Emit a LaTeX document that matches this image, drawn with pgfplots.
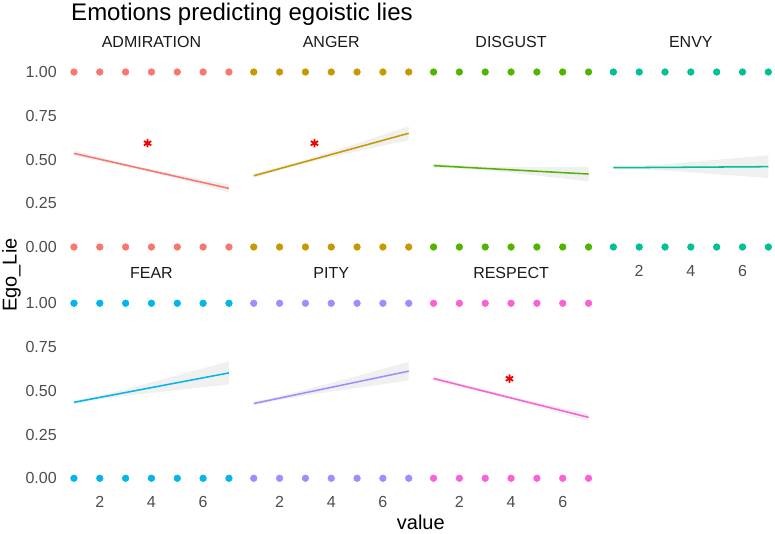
\documentclass[border=0pt]{standalone}
\usepackage{pgfplots}
\pgfplotsset{compat=1.18}
\usepackage{fontspec}
\setmainfont{Liberation Sans}
\definecolor{cA}{HTML}{F8766D}
\definecolor{cB}{HTML}{C49A00}
\definecolor{cC}{HTML}{53B400}
\definecolor{cD}{HTML}{00C094}
\definecolor{cE}{HTML}{00B6EB}
\definecolor{cF}{HTML}{A58AFF}
\definecolor{cG}{HTML}{FB61D7}
\definecolor{ribbon}{HTML}{F0F0F0}
\definecolor{ticktext}{HTML}{4D4D4D}
\definecolor{striptext}{HTML}{1A1A1A}
\definecolor{starred}{HTML}{F00000}
\pgfplotsset{
  panel/.style={
    scale only axis, width=127.875pt, height=144.375pt,
    xmin=0.7, xmax=7.3, ymin=-0.05, ymax=1.05,
    axis line style={draw=none}, major tick length=0pt, tick style={draw=none},
    xtick={2,4,6}, ytick={0,0.25,0.5,0.75,1},
    clip=false, anchor=north west,
    /pgf/number format/assume math mode=true,
    ticklabel style={font=\fontsize{12}{14}\selectfont, text=ticktext, inner sep=0pt},
    xticklabel style={anchor=center, yshift=-11.25pt},
    yticklabel style={anchor=east, xshift=-6.9pt, /pgf/number format/.cd, fixed, fixed zerofill, precision=2},
    title style={at={(0.5,1)}, anchor=base, yshift=6.1pt, font=\fontsize{12}{14}\selectfont, text=striptext, inner sep=0pt},
  },
  nox/.style={xticklabels={}},
  noy/.style={yticklabels={}},
  dots/.style={only marks, mark=*, mark size=2.5pt, mark options={draw=none}},
  band/.style={fill=ribbon, draw=none},
  fit/.style={line width=1.15pt},
  star/.style={only marks, mark=asterisk, mark size=3.2pt, starred, mark options={line width=1.35pt}},
}
\begin{document}
\begin{tikzpicture}
\path[use as bounding box] (0,0) rectangle (581.25pt,-399.75pt);
\node[anchor=base west, font=\fontsize{18}{21}\selectfont] at (49.9pt,-15.4pt) {Emotions predicting egoistic lies};
\node[anchor=base, font=\fontsize{15}{18}\selectfont] at (315.6pt,-396.75pt) {value};
\node[anchor=base, rotate=90, font=\fontsize{15}{18}\selectfont] at (12.5pt,-206.25pt) {Ego\_Lie};

% ADMIRATION
\begin{axis}[panel, nox, at={(49.65pt,-47.4375pt)}, title={ADMIRATION}]
\addplot[band] coordinates {(1,0.551)(2,0.513)(3,0.477)(4,0.445)(5,0.415)(6,0.385)(7,0.356)(7,0.314)(6,0.351)(5,0.389)(4,0.425)(3,0.459)(2,0.491)(1,0.519)} -- cycle;
\addplot[fit, cA] coordinates {(1,0.535)(7,0.335)};
\addplot[dots, cA] coordinates {(1,0)(2,0)(3,0)(4,0)(5,0)(6,0)(7,0)(1,1)(2,1)(3,1)(4,1)(5,1)(6,1)(7,1)};
\addplot[star] coordinates {(3.85,0.593)};
\end{axis}

% ANGER
\begin{axis}[panel, nox, noy, at={(184.5pt,-47.4375pt)}, title={ANGER}]
\addplot[band] coordinates {(1,0.419)(2,0.457)(3,0.498)(4,0.545)(5,0.592)(6,0.641)(7,0.690)(7,0.610)(6,0.579)(5,0.546)(4,0.513)(3,0.478)(2,0.439)(1,0.395)} -- cycle;
\addplot[fit, cB] coordinates {(1,0.407)(7,0.650)};
\addplot[dots, cB] coordinates {(1,0)(2,0)(3,0)(4,0)(5,0)(6,0)(7,0)(1,1)(2,1)(3,1)(4,1)(5,1)(6,1)(7,1)};
\addplot[star] coordinates {(3.35,0.593)};
\end{axis}

% DISGUST
\begin{axis}[panel, nox, noy, at={(319.35pt,-47.4375pt)}, title={DISGUST}]
\addplot[band] coordinates {(1,0.477)(2,0.466)(3,0.460)(4,0.458)(5,0.458)(6,0.458)(7,0.459)(7,0.375)(6,0.392)(5,0.408)(4,0.424)(3,0.438)(2,0.448)(1,0.453)} -- cycle;
\addplot[fit, cC] coordinates {(1,0.465)(7,0.417)};
\addplot[dots, cC] coordinates {(1,0)(2,0)(3,0)(4,0)(5,0)(6,0)(7,0)(1,1)(2,1)(3,1)(4,1)(5,1)(6,1)(7,1)};
\end{axis}

% ENVY
\begin{axis}[panel, noy, at={(454.2pt,-47.4375pt)}, title={ENVY}]
\addplot[band] coordinates {(1,0.463)(2,0.464)(3,0.473)(4,0.485)(5,0.498)(6,0.511)(7,0.524)(7,0.394)(6,0.405)(5,0.416)(4,0.427)(3,0.437)(2,0.444)(1,0.443)} -- cycle;
\addplot[fit, cD] coordinates {(1,0.453)(7,0.459)};
\addplot[dots, cD] coordinates {(1,0)(2,0)(3,0)(4,0)(5,0)(6,0)(7,0)(1,1)(2,1)(3,1)(4,1)(5,1)(6,1)(7,1)};
\end{axis}

% FEAR
\begin{axis}[panel, at={(49.65pt,-220.875pt)}, title={FEAR}]
\addplot[band] coordinates {(1,0.444)(2,0.473)(3,0.509)(4,0.548)(5,0.588)(6,0.628)(7,0.668)(7,0.536)(6,0.520)(5,0.504)(4,0.488)(3,0.471)(2,0.451)(1,0.424)} -- cycle;
\addplot[fit, cE] coordinates {(1,0.434)(7,0.602)};
\addplot[dots, cE] coordinates {(1,0)(2,0)(3,0)(4,0)(5,0)(6,0)(7,0)(1,1)(2,1)(3,1)(4,1)(5,1)(6,1)(7,1)};
\end{axis}

% PITY
\begin{axis}[panel, noy, at={(184.5pt,-220.875pt)}, title={PITY}]
\addplot[band] coordinates {(1,0.437)(2,0.468)(3,0.505)(4,0.545)(5,0.584)(6,0.625)(7,0.665)(7,0.559)(6,0.537)(5,0.516)(4,0.495)(3,0.473)(2,0.448)(1,0.417)} -- cycle;
\addplot[fit, cF] coordinates {(1,0.427)(7,0.612)};
\addplot[dots, cF] coordinates {(1,0)(2,0)(3,0)(4,0)(5,0)(6,0)(7,0)(1,1)(2,1)(3,1)(4,1)(5,1)(6,1)(7,1)};
\end{axis}

% RESPECT
\begin{axis}[panel, noy, at={(319.35pt,-220.875pt)}, title={RESPECT}]
\addplot[band] coordinates {(1,0.586)(2,0.544)(3,0.505)(4,0.469)(5,0.435)(6,0.402)(7,0.369)(7,0.327)(6,0.368)(5,0.409)(4,0.449)(3,0.487)(2,0.522)(1,0.554)} -- cycle;
\addplot[fit, cG] coordinates {(1,0.570)(7,0.348)};
\addplot[dots, cG] coordinates {(1,0)(2,0)(3,0)(4,0)(5,0)(6,0)(7,0)(1,1)(2,1)(3,1)(4,1)(5,1)(6,1)(7,1)};
\addplot[star] coordinates {(3.94,0.569)};
\end{axis}
\end{tikzpicture}
\end{document}
